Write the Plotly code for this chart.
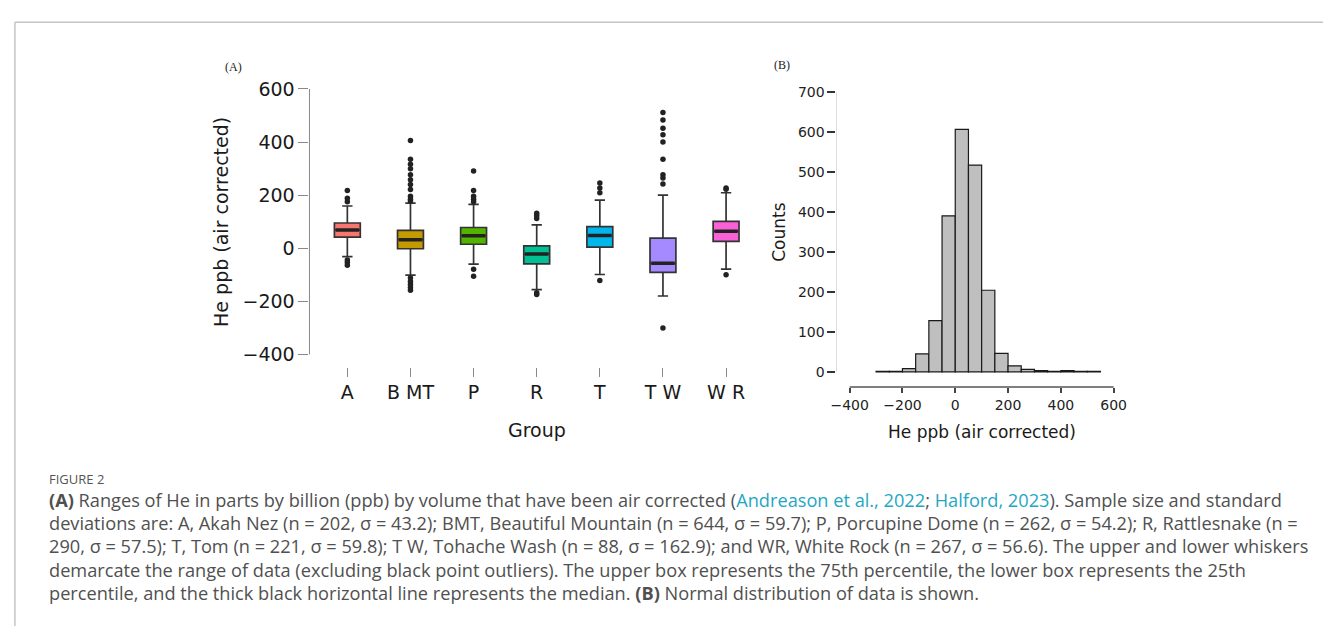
import plotly.graph_objects as go

W, H = 1331, 626

# ---------------- data: panel A (box plot) ----------------
groups = ["A", "B MT", "P", "R", "T", "T W", "W R"]
colors = ["#F8766D", "#C49A00", "#53B400", "#00C094", "#00B6EB", "#A58AFF", "#FB61D7"]
q1 = [42, -2, 15, -59, 4, -91, 26]
median = [69, 32, 47, -22, 48, -57, 64]
q3 = [95, 67, 78, 9, 81, 38, 101]
lower_whisker = [-32, -101, -60, -156, -99, -180, -79]
upper_whisker = [159, 170, 165, 88, 181, 200, 209]
out_A = [217, 188, 175, -44, -54, -64]
out_BMT = [406, 335, 316, 299, 277, 258, 240, 221, 196, 184, 178, -112, -125, -137, -148, -158]
out_P = [291, 217, 196, 184, 175, -79, -106]
out_R = [132, 122, 112, -168, -174]
out_T = [246, 227, 209, -122]
out_TW = [511, 483, 452, 427, 400, 335, 277, 264, 242, -300]
out_WR = [227, 222, -100]
outliers = [out_A, out_BMT, out_P, out_R, out_T, out_TW, out_WR]

# ---------------- data: panel B (histogram) ----------------
bin_edges = [-300, -250, -200, -150, -100, -50, 0, 50, 100, 150, 200, 250, 300, 350, 400, 450, 500, 550]
counts = [1, 1, 8, 45, 128, 390, 606, 517, 204, 46, 15, 6, 3, 1, 3, 1, 1]
x_ticks_b = [-400, -200, 0, 200, 400, 600]
y_ticks_b = [0, 100, 200, 300, 400, 500, 600, 700]
y_ticks_a = [-400, -200, 0, 200, 400, 600]

caption_lines = [
    "<b>(A)</b> Ranges of He in parts by billion (ppb) by volume that have been air corrected "
    "(<span style='color:#1ea7c4'>Andreason et al., 2022</span>; "
    "<span style='color:#1ea7c4'>Halford, 2023</span>). Sample size and standard",
    "deviations are: A, Akah Nez (n = 202, σ = 43.2); BMT, Beautiful Mountain (n = 644, σ = 59.7); "
    "P, Porcupine Dome (n = 262, σ = 54.2); R, Rattlesnake (n =",
    "290, σ = 57.5); T, Tom (n = 221, σ = 59.8); T W, Tohache Wash (n = 88, σ = 162.9); "
    "and WR, White Rock (n = 267, σ = 56.6). The upper and lower whiskers",
    "demarcate the range of data (excluding black point outliers). The upper box represents "
    "the 75th percentile, the lower box represents the 25th",
    "percentile, and the thick black horizontal line represents the median. "
    "<b>(B)</b> Normal distribution of data is shown.",
]


def fx(p):
    return p / W


def fy(p):
    return 1 - p / H


fig = go.Figure()

BOXW = 0.41
for i, g in enumerate(groups):
    fig.add_trace(go.Box(
        x=[i], q1=[q1[i]], median=[median[i]], q3=[q3[i]],
        lowerfence=[lower_whisker[i]], upperfence=[upper_whisker[i]],
        width=BOXW, whiskerwidth=0.4, fillcolor=colors[i],
        line=dict(color="#333333", width=1.7), boxpoints=False,
        showlegend=False, hoverinfo="skip", xaxis="x", yaxis="y",
    ))

# thick median lines
mx, my = [], []
for i, m in enumerate(median):
    mx += [i - BOXW / 2 + 0.02, i + BOXW / 2 - 0.02, None]
    my += [m, m, None]
fig.add_trace(go.Scatter(x=mx, y=my, mode="lines", line=dict(color="#222222", width=3.5),
                         showlegend=False, hoverinfo="skip", xaxis="x", yaxis="y"))

# outliers
ox, oy = [], []
for i, lst in enumerate(outliers):
    ox += [i] * len(lst)
    oy += lst
fig.add_trace(go.Scatter(x=ox, y=oy, mode="markers", marker=dict(color="#222222", size=5.5),
                         showlegend=False, hoverinfo="skip", xaxis="x", yaxis="y"))

# histogram
centers = [(bin_edges[k] + bin_edges[k + 1]) / 2 for k in range(len(counts))]
widths = [bin_edges[k + 1] - bin_edges[k] for k in range(len(counts))]
fig.add_trace(go.Bar(x=centers, y=counts, width=widths,
                     marker=dict(color="#bfbfbf", line=dict(color="#1a1a1a", width=1.2)),
                     showlegend=False, hoverinfo="skip", xaxis="x2", yaxis="y2"))

tickfont_a = dict(family="DejaVu Sans", size=19, color="#1a1a1a")
tickfont_b = dict(family="DejaVu Sans", size=14, color="#222222")

fig.update_layout(
    width=W, height=H, margin=dict(l=0, r=0, t=0, b=0),
    paper_bgcolor="white", plot_bgcolor="white",
    xaxis=dict(domain=[fx(306.7), fx(766)], range=[-0.6, 6.6],
               tickmode="array", tickvals=list(range(len(groups))), ticktext=groups,
               ticks="outside", ticklen=9, tickcolor="#888888", tickwidth=1,
               showline=False, showgrid=False, zeroline=False, tickfont=tickfont_a,
               anchor="y"),
    yaxis=dict(domain=[fy(362), fy(79.3)], range=[-446, 600],
               tickmode="array", tickvals=y_ticks_a,
               ticks="outside", ticklen=10, tickcolor="#888888", tickwidth=1,
               showline=False, showgrid=False, zeroline=False, tickfont=tickfont_a,
               anchor="x"),
    xaxis2=dict(domain=[fx(839.3), fx(1125)], range=[-450, 621],
                tickmode="array", tickvals=x_ticks_b,
                ticks="outside", ticklen=5, tickcolor="#444444", tickwidth=1.5,
                showline=False, showgrid=False, zeroline=False, tickfont=tickfont_b,
                anchor="y2"),
    yaxis2=dict(domain=[fy(382.7), fy(82.3)], range=[-37.8, 700],
                tickmode="array", tickvals=y_ticks_b,
                ticks="outside", ticklen=8, tickcolor="#333333", tickwidth=1.5,
                showline=False, showgrid=False, zeroline=False, tickfont=tickfont_b,
                anchor="x2"),
)

shapes = [
    # card border
    dict(type="line", xref="paper", yref="paper", x0=fx(9), x1=1, y0=fy(11.5), y1=fy(11.5),
         line=dict(color="#c4c4c4", width=1.5)),
    dict(type="line", xref="paper", yref="paper", x0=fx(9), x1=fx(9), y0=fy(11.5), y1=0,
         line=dict(color="#c4c4c4", width=1.5)),
    # panel A y axis line (R style, from first to last tick)
    dict(type="line", xref="x domain", yref="y", x0=0, x1=0, y0=y_ticks_a[0], y1=y_ticks_a[-1],
         line=dict(color="#888888", width=1)),
    # panel B axis lines
    dict(type="line", xref="x2 domain", yref="y2", x0=0, x1=0, y0=y_ticks_b[0], y1=y_ticks_b[-1],
         line=dict(color="#dddddd", width=1)),
    dict(type="line", xref="x2", yref="y2 domain", x0=x_ticks_b[0], x1=x_ticks_b[-1], y0=0, y1=0,
         line=dict(color="#555555", width=1.5)),
]
fig.update_layout(shapes=shapes)

ann = [
    dict(text="(A)", x=fx(230), y=fy(57), font=dict(family="Liberation Serif", size=12, color="#222")),
    dict(text="(B)", x=fx(784), y=fy(55), font=dict(family="Liberation Serif", size=12, color="#222")),
    dict(text="He ppb (air corrected)", x=fx(218), y=fy(215), textangle=-90,
         font=dict(family="DejaVu Sans", size=19, color="#1a1a1a")),
    dict(text="Group", x=fx(537), y=fy(426), font=dict(family="DejaVu Sans", size=19, color="#1a1a1a")),
    dict(text="Counts", x=fx(781), y=fy(225), textangle=-90,
         font=dict(family="DejaVu Sans", size=17, color="#1a1a1a")),
    dict(text="He ppb (air corrected)", x=fx(986), y=fy(429),
         font=dict(family="DejaVu Sans", size=17, color="#1a1a1a")),
    dict(text="FIGURE 2", x=fx(41), y=fy(476), xanchor="left",
         font=dict(family="Open Sans", size=13, color="#555555")),
]
line_y = [498, 521.5, 545, 568.5, 592]
for t, yy in zip(caption_lines, line_y):
    ann.append(dict(text=t, x=fx(41), y=fy(yy), xanchor="left",
                    font=dict(family="Open Sans", size=18.2, color="#505050")))
for a in ann:
    a.setdefault("xanchor", "center")
    a.update(xref="paper", yref="paper", yanchor="middle", showarrow=False)
fig.update_layout(annotations=ann)

fig.write_html("out.html")
